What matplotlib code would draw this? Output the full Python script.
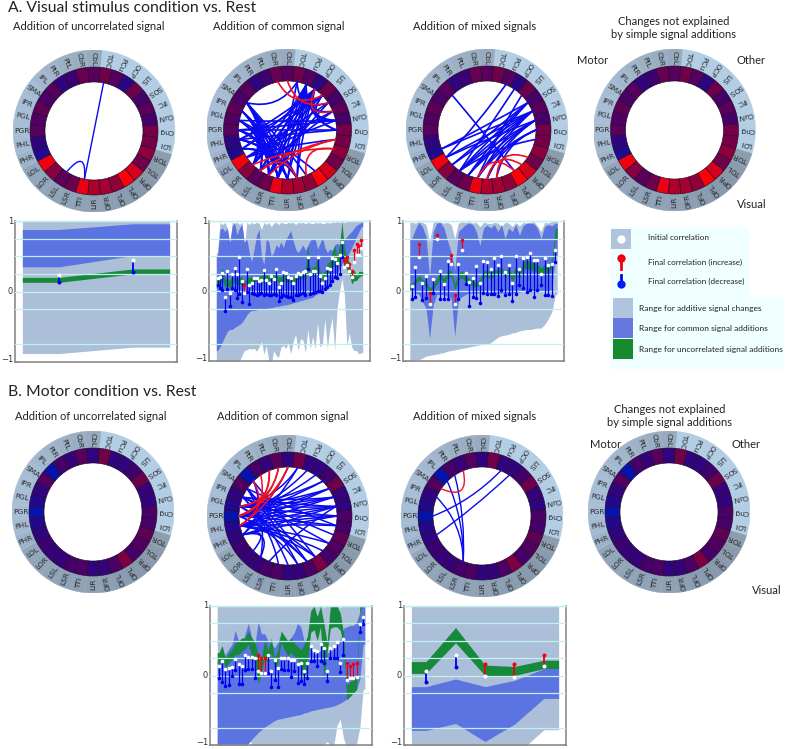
import numpy as np
import matplotlib
matplotlib.use("Agg")
import matplotlib.pyplot as plt
from matplotlib.patches import Wedge, PathPatch, Rectangle
from matplotlib.path import Path
from matplotlib.colors import LinearSegmentedColormap

W, H = 789, 749
plt.rcParams['font.family'] = ['Lato', 'DejaVu Sans']

regions = ['TOC','PCu','OCP','LiS','SOS','IfC','CuN','Cng','LOI',
           'TOR','TOL','OPR','OPL','OFL','OFR','LiR','TTI','LSR','LSL','LOR','LOL',
           'PHR','PHL','PGR','PGL','IPR','SMA','IPL','PtR','PtL','CbR','CbL']
sector_colors = ['#b2cde4']*9 + ['#8b9dae','#8a9bad','#8899ab','#8799ac','#8a9cb0','#8c9fb3','#8ea1b5',
                 '#8fa2b6','#8fa3b8','#90a4b9','#92a6bb','#93a7bc'] + \
                ['#9fb4cb','#a4bad2','#a7bdd5','#a8bed6','#a8bed6','#a6bcd3','#a3b8cf','#a0b5ca','#9db1c5','#9aaec1','#98abbe']

vals_a = [.50,.36,.18,.48,.30,.40,.30,.52,.52,.60,.50,.85,1.0,.62,.68,.72,.92,.48,.40,.58,.95,
          .14,.20,.38,.35,.42,.32,.38,.20,.25,.45,.38]
vals_b = [.50,.20,.20,.28,.48,.22,.20,.32,.30,.42,.35,.30,.55,.32,.22,.20,.33,.30,.22,.22,.25,
          .20,.15,.03,.15,.20,.35,.02,.30,.22,.38,.20]

blue_a1 = [('TOC','TTI'),('TTI','LSL')]
blue_a2 = [('SMA','LSL'),('SMA','LSR'),('SMA','TTI'),('SMA','LiR'),('SMA','OFR'),('SMA','OFL'),('SMA','TOC'),
           ('IPR','LOR'),('IPR','LSL'),('IPR','LSR'),('IPR','TTI'),('IPR','LiR'),('IPR','OFR'),
           ('PGL','LSL'),('PGL','LSR'),('PGL','TTI'),('PGL','LiR'),('PGL','CuN'),('PGL','OPL'),
           ('PGR','Cng'),('PGR','CuN'),('PGR','LOR'),('PGR','LSR'),('PGR','TTI'),('PGR','LiR'),
           ('PHL','LSR'),('PHL','TTI'),('PHL','LiR'),('PHL','OFR'),('PHL','LiS'),('PHL','OCP'),('PHL','Cng'),
           ('PHR','TTI'),('PHR','LiR'),('PHR','OFR'),('PHR','OCP'),('PHR','LiS'),
           ('LOL','CuN'),('LOL','IfC'),('LOL','LOI'),('LOL','SOS'),
           ('LOR','OCP'),('LOR','LiS'),('LOR','PCu'),
           ('LSL','PCu'),('LSL','OCP'),('LSL','IfC'),
           ('LSR','OCP'),('LSR','PCu'),('LSR','SOS'),
           ('TTI','PCu'),('TTI','OCP'),('TTI','TOC'),('TTI','LiS'),
           ('LiR','OCP'),('LiR','PCu'),('OFR','OCP'),('OFR','PCu'),
           ('TOC','SOS'),('OCP','CuN'),('PCu','IfC'),('LiS','CuN'),('PCu','Cng'),('OCP','Cng')]
red_a2 = [('CbR','LiS'),('CbL','SOS'),('LOI','LSL'),('LOI','LSR'),('TOR','LOR'),('OFL','TOR'),('OCP','IfC'),('LSL','OFR')]
blue_a3 = [('IfC','LSL'),('IfC','LOR'),('IfC','LSR'),('IfC','TTI'),('IfC','LOL'),('SOS','LSL'),('SOS','LSR'),('SOS','LOR'),
           ('CuN','LSL'),('CuN','LSR'),('CuN','TTI'),('CuN','LiR'),('Cng','LiR'),('Cng','TTI'),('SOS','PHR'),('LiS','TTI'),
           ('LOI','LSL'),('IPL','OPL'),('PCu','LOL'),('IfC','PHR'),('CuN','LOL'),('Cng','OFR'),('OCP','LSL')]
red_a3 = [('LiR','OPR'),('TTI','OPL'),('OFR','TOL')]
blue_b2 = [('PGR','OCP'),('PGR','LiS'),('PGR','SOS'),('PGR','IfC'),('PGR','CuN'),('PGR','Cng'),('PGR','LOI'),('PGR','OFR'),('PGR','OFL'),
           ('PGL','LiS'),('PGL','SOS'),('PGL','IfC'),('PGL','CuN'),('PGL','Cng'),('PGL','OFL'),('PGL','OPL'),
           ('PHL','SOS'),('PHL','IfC'),('PHL','CuN'),('PHL','Cng'),('PHL','LOI'),('PHL','OPL'),('PHL','OPR'),('PHL','TOL'),
           ('IPR','CuN'),('IPR','IfC'),('IPR','LiR'),('IPR','TTI'),('IPR','TOL'),('IPR','TOR'),
           ('PHR','LOR'),('PHR','LSL'),('PHR','Cng'),('PHR','CuN'),
           ('SMA','LOI'),('SMA','LSL'),('SMA','OFL'),('SMA','OFR'),
           ('IPL','OPL'),('IPL','PHR'),('CbL','PHL'),('TOC','PHR'),('PCu','PGR'),('TOC','PGL'),('LSR','CuN')]
red_b2 = [('CbR','PGR'),('CbL','PGR'),('PtL','PGR'),('PtL','PGL'),('PtR','PHL'),('CbR','PGL'),('CbL','PHL'),('IPL','PGR')]
blue_b3 = [('PGR','PCu'),('PHR','OCP'),('IPR','LSR'),('IPL','LSR'),('PtR','LSR')]
red_b3 = [('SMA','PtL')]

# series for the dot-and-band panels (value order is left to right)
gh_a1 = [1.0, 1.0]
gl_a1 = [-.88, -.79]
bh_a1 = [.88, .96]
bl_a1 = [.35, .51]
ch_a1 = [.20, .32]
cl_a1 = [.13, .25]
ini_a1 = [.23, .45]
fin_a1 = [.14, .27]

ini_a2 = [.19,.20,.26,-.08,.28,-.03,.25,.33,.24,.48,.14,-.03,.32,.08,.12,.18,.19,.15,.16,.30,.16,.12,.22,.17,.32,.06,.12,.27,.26,.20,
          .19,.11,.22,.26,.24,.27,.28,.49,.24,.28,.29,.49,.22,.12,.18,.33,.32,.47,.46,.40,.51,.70,.35,.37,.28,.20,.41,.51,.51,.62]
fin_a2 = [.08,.05,.02,-.28,.03,-.22,.05,.02,-.10,-.04,-.15,.08,-.02,-.19,-.03,-.04,-.05,-.04,-.03,-.05,-.04,-.05,-.05,-.04,-.05,-.14,-.09,-.06,-.07,-.08,
          -.08,-.13,-.06,-.05,-.04,-.03,-.05,.32,-.04,-.03,-.02,.0,.0,-.01,.03,.06,.08,.15,.2,.18,.25,.49,.44,.48,.38,.28,.59,.67,.65,.73]
cl_a2 = [.05,.1,.15,.05,.08,.05,.1,.12,.08,.1,.1,.05,.12,.1,.1,.12,.14,.1,.12,.12,.15,.14,.14,.16,.15,.12,.1,.14,.14,.12,
         .12,.08,.14,.16,.16,.18,.14,.3,.2,.22,.2,.3,.18,.15,.16,.26,.26,.35,.35,.35,.4,.6,.4,.3,.25,.1,.15,.15,.2,.22]
ch_a2 = [.16,.22,.33,.18,.18,.15,.2,.2,.17,.2,.2,.14,.2,.2,.2,.2,.22,.2,.22,.24,.24,.22,.24,.26,.24,.2,.2,.24,.25,.2,
         .22,.18,.24,.28,.28,.3,.3,.65,.3,.34,.35,.5,.28,.25,.28,.4,.42,.55,.65,.5,.65,.99,.6,.5,.4,.25,.3,.22,.28,.28]
bh_a2 = [.5,.88,.9,.85,.9,.7,.93,.97,.8,.9,.95,.7,.75,.55,.42,.6,.8,.88,.5,.38,.75,.7,.5,.55,.66,.62,.7,.62,.74,.8,
         .86,.72,.6,.55,.6,.66,.58,.65,.72,.75,.74,.6,.68,.76,.62,.55,.6,.58,.66,.68,.66,.72,.74,.78,.82,.85,.9,.94,.96,.98]
bl_a2 = [-.85,-.8,-.72,-.65,-.58,-.55,-.55,-.52,-.5,-.48,-.45,-.4,-.34,-.3,-.28,-.28,-.27,-.26,-.26,-.25,-.25,-.24,-.24,-.23,-.22,-.22,-.21,-.2,-.2,-.19,
         -.18,-.17,-.16,-.15,-.14,-.13,-.12,-.11,-.1,-.09,-.06,-.04,-.02,0,.03,.05,.08,.12,.18,.24,.32,.38,.43,.48,.55,.62,.7,.78,.85,.92]
gh_a2 = [.55,.98,.95,.98,.9,.55,.98,.97,.98,.95,.98,.6,.98,.95,.98,.96,.98,.97,.88,.98,.95,.98,.92,.97,.98,.95,.98,.97,.96,.98,
         .97,.98,.95,.98,.97,.98,.96,.98,.97,.96,.98,.97,.98,.96,.97,.98,.97,.98,.98,.99,.98,.99,.98,.99,1.0,1.0,1.0,1.0,1.0,1.0]
gl_a2 = [-1.05,-1.05,-1.05,-1.05,-1.05,-1.05,-1.05,-1.05,-1.05,-1.0,-.92,-.85,-.84,-.82,-.83,-.82,-.86,-.8,-.72,-.9,-.78,-1.0,-1.05,-.85,-.92,-.95,-.8,-.78,-.82,-.74,
         -.9,-.72,-.62,-.85,-.68,-.7,-.88,-.55,-.82,-.65,-.82,-.45,-.8,-.75,-.4,-.82,-.55,-.38,-.85,-.25,.0,.18,-.05,-.78,-.6,-.8,-.85,-.85,-.9,-.88]

ini_a3 = [.07,.35,.48,.12,.21,-.18,.17,.75,.29,.10,.43,.38,-.18,.38,.59,.26,.13,.19,.36,.12,.43,.42,.31,.47,.37,.50,.27,.37,.12,.50,.31,.47,.48,.54,.44,.45,.25,.47,.37,.39,.59]
fin_a3 = [-.12,-.09,.67,-.13,-.10,-.03,-.03,.80,-.12,-.12,-.12,.51,-.05,-.12,.73,.10,-.21,-.09,-.10,-.17,-.03,-.04,-.04,-.04,-.07,.01,-.06,-.04,-.14,-.04,.09,.04,-.02,.02,-.08,.02,.09,-.06,-.06,-.07,.42]
cl_a3 = [.02,.1,.16,.11,.07,-.03,.02,.1,.18,.1,.2,.2,.02,.15,.2,.12,.1,.07,.05,.1,.2,.2,.17,.22,.22,.25,.18,.25,.13,.25,.17,.3,.33,.3,.28,.27,.22,.28,.2,.35,.75]
ch_a3 = [.11,.16,.22,.17,.14,.04,.09,.18,.27,.18,.29,.3,.1,.25,.29,.22,.18,.14,.12,.17,.3,.3,.27,.31,.3,.34,.28,.33,.23,.35,.27,.42,.44,.42,.4,.38,.33,.38,.32,.45,.9]
bh_a3 = [.74,.88,.98,.92,.78,.2,.85,.97,.98,.9,.72,.55,.3,.85,.9,.95,.97,.95,.85,.65,.9,.94,.9,.95,.85,.95,.75,.9,.85,.95,.8,.93,.97,.97,.96,.9,.75,.92,.95,.93,.97]
bl_a3 = [.0,-.03,-.05,-.15,-.25,-.68,-.2,-.05,-.05,-.05,-.08,-.1,-.65,-.12,-.08,-.05,-.03,-.03,-.03,-.03,-.03,-.03,-.03,-.05,-.03,-.03,-.03,-.03,-.03,-.02,-.02,0,0,0,0,0,.0,.0,.0,.02,.5]
gh_a3 = [.98,.97,.99,.98,.95,.7,.98,.99,.98,.97,.98,.95,.75,.97,.99,.98,.99,.97,.98,.92,.98,.97,.96,.98,.97,.92,.98,.97,.92,.98,.93,.98,.97,.98,.99,.93,.85,.98,.97,.99,1.0]
gl_a3 = [-1.0,-.99,-.98,-.96,-.93,-.92,-.91,-.9,-.89,-.88,-.86,-.85,-.84,-.83,-.82,-.81,-.8,-.79,-.78,-.77,-.76,-.76,-.74,-.7,-.66,-.64,-.63,-.62,-.6,-.59,-.57,-.56,-.55,-.55,-.54,-.53,-.53,-.48,-.4,-.3,-.05]

ini_b2 = [.13,.21,.09,.11,.12,.24,.17,.14,.29,.26,.27,.25,.06,.04,.04,.29,.07,.22,.11,.25,.25,.25,.23,.23,.17,.18,.07,.18,.42,.37,.35,.46,.39,.07,.40,.43,.48,.18,.52,-.07,-.04,-.03,-.02,.74,.84]
fin_b2 = [-.04,-.1,-.15,-.14,-.01,.08,-.12,-.12,.08,.09,.10,-.03,.29,.25,.25,.04,-.16,-.06,-.16,.09,.08,.08,-.02,.06,-.11,-.08,-.12,-.03,.21,.21,.13,.21,.18,-.08,.25,.25,.25,.05,.30,.18,.13,.17,.18,.63,.74]
cl_b2 = [.17,.25,.11,.18,.23,.30,.30,.35,.38,.45,.28,.18,-.13,.06,.25,.18,.33,.09,.18,.47,.37,.28,.33,.28,.23,.16,-.13,.18,.62,.66,.5,.7,-.05,.33,.68,.7,.7,.65,.45,-.35,-.3,-.25,-.2,.9,1.05]
ch_b2 = [.33,.43,.25,.32,.38,.47,.5,.54,.54,.64,.54,.48,.3,.25,.52,.37,.54,.25,.37,.64,.57,.5,.54,.47,.42,.37,.45,.57,.93,1.0,.85,1.0,.76,.47,1.0,1.0,1.0,.9,.62,-.13,-.1,-.05,.0,1.05,1.05]
bh_b2 = [.2,.25,.3,.38,.45,.65,.5,.4,.6,.75,.55,.45,.78,.6,.6,.5,.45,.4,.48,.6,.55,.45,.55,.62,.75,.7,.5,.5,.38,.3,.32,.36,.35,.32,.35,.38,.42,.5,.68,.7,.72,.72,.78,.9,1.05]
bl_b2 = [-1.05,-1.05,-1.05,-1.05,-1.05,-1.05,-1.05,-1.05,-1.03,-.98,-.92,-.87,-.82,-.78,-.74,-.71,-.68,-.65,-.63,-.62,-.61,-.6,-.59,-.58,-.57,-.56,-.54,-.53,-.51,-.5,-.49,-.48,-.47,-.46,-.45,-.44,-.42,-.4,-.37,-.34,-.3,-.25,-.2,-.05,.45]
gh_b2 = [1.05]*32 + [.97,1.05,1.05,.97,1.05,.97,1.05,1.05,1.05,1.05,1.05,1.05,1.05]
gl_b2 = [-1.05,-1.05,-1.05,-1.05,-1.05,-1.05,-1.05,-1.05,-.98,-.85,-1.0,-1.05,-1.05,-1.05,-1.05,-1.05,-1.05,-1.05,-1.05,-1.05,-1.05,-1.05,-1.05,-1.05,-1.05,-1.05,-1.05,-1.05,-1.05,-1.05,-1.05,-1.05,-1.0,-.95,-1.0,-1.02,-.72,-.63,-.9,-1.05,-1.05,-1.05,-.98,-.75,-.2]

ini_b3 = [.06,.30,-.01,-.02,.14]
fin_b3 = [-.09,.12,.17,.17,.29]
cl_b3 = [.03,.47,.0,.0,.10]
ch_b3 = [.20,.69,.15,.13,.22]
bh_b3 = [-.16,-.05,-.16,-.07,.10]
bl_b3 = [-.79,-.69,-.95,-.70,-.33]
gh_b3 = [1.05,1.05,1.05,1.05,1.05]
gl_b3 = [-1.3,-1.3,-1.3,-1.16,-.78]

title_main = ['A. Visual stimulus condition vs. Rest', 'B. Motor condition vs. Rest']
sub_titles = ['Addition of uncorrelated signal', 'Addition of common signal', 'Addition of mixed signals']
changes_title = 'Changes not explained\nby simple signal additions'
legend_top = ['Initial correlation', 'Final correlation (increase)', 'Final correlation (decrease)']
legend_bot = ['Range for additive signal changes', 'Range for common signal additions', 'Range for uncorrelated signal additions']
ytick_text = {1: '1', 0: '0', -1: '\u22121'}

GRAY, BLUE, GREEN = '#abc0d8', '#5b74e2', '#17893a'
cmap = LinearSegmentedColormap.from_list('bpr', [(0, '#0014b0'), (.25, '#3c0072'), (.5, '#70004a'), (1, '#ff0008')])

fig = plt.figure(figsize=(W/100, H/100), dpi=100, facecolor='white')

def px_axes(l, t, r, b, **kw):
    return fig.add_axes([l/W, 1-b/H, (r-l)/W, (b-t)/H], **kw)

ov = fig.add_axes([0, 0, 1, 1], zorder=0)
ov.set_xlim(0, W); ov.set_ylim(H, 0); ov.axis('off')

def ang(i):
    return 90 - 11.25*(i+1)

def ring(cx, cy, vals, blue=(), red=(), lw=1.2, R=81):
    ax = px_axes(cx-R, cy-R, cx+R, cy+R, zorder=2)
    ax.set_xlim(-1, 1); ax.set_ylim(-1, 1); ax.axis('off'); ax.patch.set_alpha(0)
    r_mid, r_in = .79, .605
    for i, name in enumerate(regions):
        a = ang(i)
        ax.add_patch(Wedge((0, 0), 1, a-5.625, a+5.625, width=1-r_mid, fc=sector_colors[i], ec=sector_colors[i], lw=.3))
        ax.add_patch(Wedge((0, 0), r_mid, a-5.625, a+5.625, width=r_mid-r_in, fc=cmap(vals[i]), ec='#1c0a28', lw=.45))
        t = np.deg2rad(a)
        ax.text(.895*np.cos(t), .895*np.sin(t), name, rotation=(a+180) % 360, rotation_mode='anchor',
                ha='center', va='center', fontsize=5.4, family='DejaVu Sans', color='#2a2a2a')
    idx = {n: i for i, n in enumerate(regions)}
    for pairs, col in ((blue, '#0a0af0'), (red, '#f01020')):
        for a_, b_ in pairs:
            i1, i2 = idx[a_], idx[b_]
            t1, t2 = np.deg2rad(ang(i1)), np.deg2rad(ang(i2))
            p1 = np.array([np.cos(t1), np.sin(t1)])*r_in
            p2 = np.array([np.cos(t2), np.sin(t2)])*r_in
            sep = min(abs(i1-i2), 32-abs(i1-i2))*11.25
            c = (.3 + .6*sep/180)*(p1+p2)/2
            ax.add_patch(PathPatch(Path([p1, c, p2], [Path.MOVETO, Path.CURVE3, Path.CURVE3]),
                                   fc='none', ec=col, lw=lw, capstyle='round'))

def band_xy(y, n):
    y = np.asarray(y, float)
    return np.r_[-.5, np.arange(n), n-.5], np.r_[y[0], y, y[-1]]

def panel(l, t, r, b, gl, gh, bl, bh, cl, ch, ini, fin, m=.1, ms=2.9, lw=1.3):
    n = len(ini)
    ax = px_axes(l, t, r, b, zorder=1)
    for lo, hi, col in ((gl, gh, GRAY), (bl, bh, BLUE), (cl, ch, GREEN)):
        x, y0 = band_xy(lo, n); _, y1 = band_xy(hi, n)
        ax.fill_between(x, y0, y1, color=col, lw=0, zorder=2)
    ax.set_xlim(-.5-m, n-.5+m); ax.set_ylim(-1, 1)
    for v in [1, .75, .5, .25, 0, -.25, -.75]:
        ax.axhline(v, color='#c2efef', lw=.9, zorder=3)
    for i, (a, f) in enumerate(zip(ini, fin)):
        col = '#f00010' if f > a else '#0000f0'
        ax.plot([i, i], [a, f], color=col, lw=lw, zorder=4, solid_capstyle='butt')
        ax.plot(i, f, 'o', color=col, ms=ms, mew=0, zorder=5)
        ax.plot(i, a, 'o', color='white', ms=ms, mew=0, zorder=6)
    ax.set_xticks([])
    ax.set_yticks([-1, -.75, -.25, 0, .25, .5, .75, 1])
    ax.set_yticklabels([])
    for v, s in ytick_text.items():
        ax.annotate(s, xy=(0, v), xycoords=('axes fraction', 'data'), xytext=(-1.5, 1.5 if v == -1 else 0),
                    textcoords='offset points', ha='right', va='center', fontsize=6,
                    family='DejaVu Sans', color='#333333', annotation_clip=False)
    ax.tick_params(axis='y', direction='in', left=True, right=True, length=2, width=.6, color='#555555')
    for s in ('left', 'right', 'bottom'):
        ax.spines[s].set_color('#8a8a8a'); ax.spines[s].set_linewidth(1.2)
    ax.spines['top'].set_color('#b8e6e6'); ax.spines['top'].set_linewidth(1)
    return ax

ov.text(8, 8, title_main[0], fontsize=11.3, va='center', ha='left', color='#222222')
ov.text(8, 392, title_main[1], fontsize=11.3, va='center', ha='left', color='#222222')
for x, y, s in [(13, 26, sub_titles[0]), (213, 26, sub_titles[1]), (413, 26, sub_titles[2]),
                (15, 416, sub_titles[0]), (217, 416, sub_titles[1]), (413, 416, sub_titles[2])]:
    ov.text(x, y, s, fontsize=8, va='center', ha='left', color='#222222')
ov.text(674, 28, changes_title, fontsize=8, va='center', ha='center', color='#222222', linespacing=1.25)
ov.text(670, 416, changes_title, fontsize=8, va='center', ha='center', color='#222222', linespacing=1.25)
for x, y, s in [(593, 60, 'Motor'), (751, 60, 'Other'), (752, 205, 'Visual'),
                (606, 444, 'Motor'), (746, 444, 'Other'), (767, 591, 'Visual')]:
    ov.text(x, y, s, fontsize=8, va='center', ha='center', color='#222222')

ring(94, 131, vals_a, blue_a1, lw=1.0)
ring(287.5, 130, vals_a, blue_a2, red_a2, lw=1.2)
ring(487, 130, vals_a, blue_a3, red_a3, lw=1.2)
ring(674.5, 130, vals_a)
ring(93, 512, vals_b)
ring(288, 516, vals_b, blue_b2, red_b2, lw=1.1)
ring(482, 516, vals_b, blue_b3, red_b3, lw=1.0)
ring(669, 512, vals_b)

panel(15, 221, 177, 362, gl_a1, gh_a1, bl_a1, bh_a1, cl_a1, ch_a1, ini_a1, fin_a1, m=.1)
panel(209, 221, 370, 361, gl_a2, gh_a2, bl_a2, bh_a2, cl_a2, ch_a2, ini_a2, fin_a2, m=3, ms=2.6, lw=.85)
panel(403, 221, 564, 361, gl_a3, gh_a3, bl_a3, bh_a3, cl_a3, ch_a3, ini_a3, fin_a3, m=1.9, ms=2.6, lw=.9)
panel(210, 606, 372, 745, gl_b2, gh_b2, bl_b2, bh_b2, cl_b2, ch_b2, ini_b2, fin_b2, m=2.2, ms=2.6, lw=.9)
panel(404, 606, 566, 745, gl_b3, gh_b3, bl_b3, bh_b3, cl_b3, ch_b3, ini_b3, fin_b3, m=.25)

ov.add_patch(Rectangle((610, 227), 139, 70, fc='#f0ffff', ec='none'))
ov.add_patch(Rectangle((610, 297), 174, 72, fc='#f0ffff', ec='none'))
ov.add_patch(Rectangle((611, 229), 20, 20, fc='#b0c4de', ec='none'))
ov.plot(621, 239, 'o', color='white', ms=6, mew=0)
ov.plot([621, 621], [258, 269], color='#f00010', lw=2)
ov.plot(621, 258, 'o', color='#f00010', ms=6, mew=0)
ov.plot([621, 621], [275, 285], color='#0000f0', lw=2)
ov.plot(621, 284, 'o', color='#0020f0', ms=6, mew=0)
for y, s in zip((238, 262, 281), legend_top):
    ov.text(648, y, s, fontsize=5.9, va='center', ha='left', color='#222222')
for y, col, s in zip((298, 318, 339), ('#b0c4de', '#6478e0', '#178a30'), legend_bot):
    ov.add_patch(Rectangle((613, y), 20, 20, fc=col, ec='none'))
    ov.text(639, y+10.5, s, fontsize=6, va='center', ha='left', color='#222222')

fig.savefig('out.png', dpi=100)
